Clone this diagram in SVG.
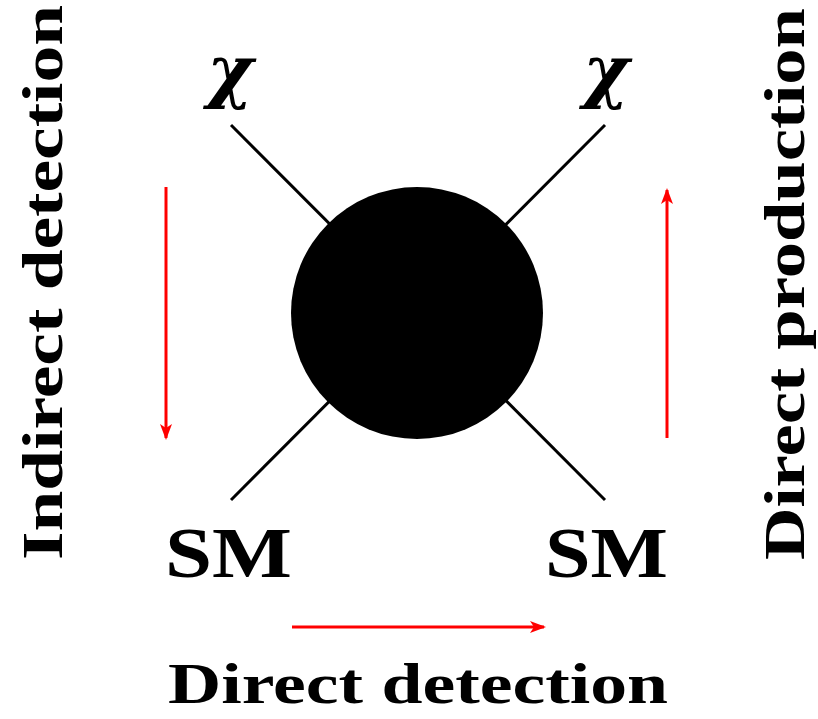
<svg xmlns="http://www.w3.org/2000/svg" width="818" height="719" viewBox="0 0 818 719">
<style>
.lbl{font-family:"Liberation Serif","DejaVu Serif",serif;font-weight:bold;fill:#000}
.chi{font-family:"DejaVu Serif","Liberation Serif",serif;font-style:italic;font-weight:bold;fill:#000}
.leg{stroke:#000;stroke-width:3;fill:none}
.arr{stroke:#ff0000;stroke-width:3;fill:none;marker-end:url(#head)}
</style>
<defs>
<marker id="head" markerWidth="16" markerHeight="12" viewBox="0 0 16 12" refX="14" refY="6" orient="auto" markerUnits="userSpaceOnUse">
<path d="M0,0 L16,6 L0,12 L4,6 Z" fill="#ff0000"/>
</marker>
</defs>
<rect width="818" height="719" fill="#fff"/>
<g id="connectors">
<line class="leg" x1="231" y1="125" x2="605" y2="500"/>
<line class="leg" x1="605" y1="125" x2="231" y2="500"/>
<line class="arr" x1="166" y1="187" x2="166" y2="438"/>
<line class="arr" x1="667" y1="438" x2="667" y2="190"/>
<line class="arr" x1="292" y1="627" x2="544" y2="627"/>
</g>
<g id="blob"><circle cx="417" cy="313" r="126" fill="#000"/></g>
<g id="chi-left"><text class="chi" x="230" y="95" font-size="70" text-anchor="middle">χ</text></g>
<g id="chi-right"><text class="chi" x="606" y="95" font-size="70" text-anchor="middle">χ</text></g>
<g id="sm-left"><text class="lbl" x="165" y="577" font-size="72" textLength="127" lengthAdjust="spacingAndGlyphs">SM</text></g>
<g id="sm-right"><text class="lbl" x="545" y="577" font-size="72" textLength="123" lengthAdjust="spacingAndGlyphs">SM</text></g>
<g id="label-bottom"><text class="lbl" x="168" y="703" font-size="58" textLength="500" lengthAdjust="spacingAndGlyphs">Direct detection</text></g>
<g id="label-left"><text class="lbl" transform="translate(62,560) rotate(-90)" x="0" y="0" font-size="58" textLength="555" lengthAdjust="spacingAndGlyphs">Indirect detection</text></g>
<g id="label-right"><text class="lbl" transform="translate(804,560) rotate(-90)" x="0" y="0" font-size="56" textLength="552" lengthAdjust="spacingAndGlyphs">Direct production</text></g>
</svg>
